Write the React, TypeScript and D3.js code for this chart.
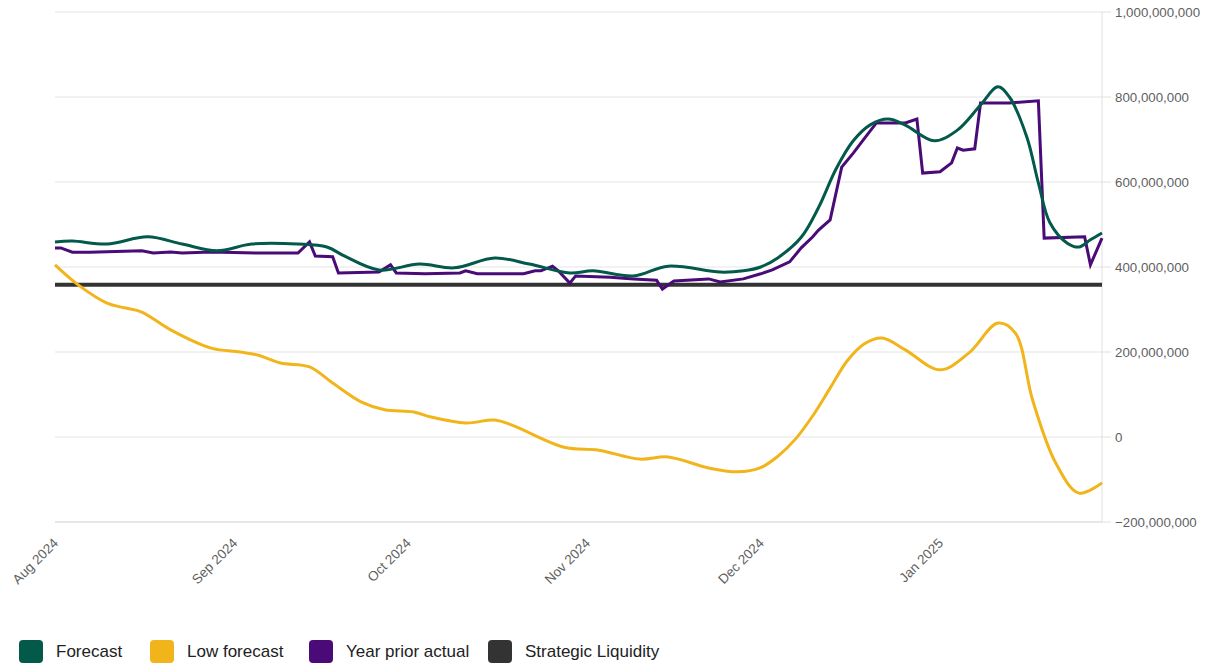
import React from "react";
import * as d3 from "d3";

const forecastDates = ["2024-08-01","2024-08-04","2024-08-10","2024-08-17","2024-08-23","2024-08-29","2024-09-04","2024-09-12","2024-09-17","2024-09-20","2024-09-26","2024-10-03","2024-10-09","2024-10-16","2024-10-22","2024-10-29","2024-11-02","2024-11-09","2024-11-15","2024-11-24","2024-11-28","2024-12-01","2024-12-04","2024-12-08","2024-12-11","2024-12-14","2024-12-17","2024-12-20","2024-12-23","2024-12-26","2024-12-31","2025-01-04","2025-01-08","2025-01-11","2025-01-13","2025-01-16","2025-01-18","2025-01-20","2025-01-23","2025-01-25","2025-01-27","2025-01-29"];
const forecastValues = [459,461,454,471,454,438,454,454,447,426,393,407,398,421,407,386,391,379,402,388,391,400,422,470,540,630,697,735,748,734,697,722,781,824,800,706,598,504,456,447,464,480];

const lowDates = ["2024-08-01","2024-08-05","2024-08-10","2024-08-13","2024-08-16","2024-08-21","2024-08-28","2024-09-02","2024-09-05","2024-09-09","2024-09-14","2024-09-18","2024-09-23","2024-09-27","2024-10-02","2024-10-05","2024-10-11","2024-10-16","2024-10-19","2024-10-28","2024-11-03","2024-11-10","2024-11-15","2024-11-22","2024-11-27","2024-12-01","2024-12-04","2024-12-07","2024-12-10","2024-12-13","2024-12-16","2024-12-19","2024-12-22","2024-12-26","2025-01-01","2025-01-06","2025-01-11","2025-01-14","2025-01-17","2025-01-21","2025-01-25","2025-01-29"];
const lowValues = [405,358,315,304,294,252,209,200,193,174,165,127,82,64,59,47,33,40,28,-24,-31,-52,-47,-73,-82,-72,-45,-5,50,115,180,220,233,205,158,198,268,245,87,-61,-132,-108];

const priorDates = ["2024-08-01","2024-08-02","2024-08-04","2024-08-07","2024-08-16","2024-08-18","2024-08-21","2024-08-23","2024-08-28","2024-09-05","2024-09-12","2024-09-14","2024-09-15","2024-09-18","2024-09-19","2024-09-26","2024-09-28","2024-09-29","2024-10-04","2024-10-10","2024-10-11","2024-10-13","2024-10-21","2024-10-23","2024-10-24","2024-10-26","2024-10-27","2024-10-29","2024-10-30","2024-11-05","2024-11-09","2024-11-13","2024-11-14","2024-11-16","2024-11-22","2024-11-24","2024-11-28","2024-12-01","2024-12-03","2024-12-06","2024-12-08","2024-12-10","2024-12-11","2024-12-13","2024-12-15","2024-12-17","2024-12-19","2024-12-21","2024-12-26","2024-12-28","2024-12-29","2025-01-01","2025-01-03","2025-01-04","2025-01-05","2025-01-07","2025-01-08","2025-01-13","2025-01-18","2025-01-19","2025-01-26","2025-01-27","2025-01-29"];
const priorValues = [445,445,435,435,438,433,435,433,435,433,433,459,426,424,386,388,405,386,384,386,391,384,384,391,391,402,391,362,379,376,372,369,348,367,372,365,372,384,393,412,445,471,487,511,635,668,704,739,739,748,621,624,645,680,675,678,786,786,791,468,471,405,468];

const strategicLiquidity = 358;

const yTicks = [-200, 0, 200, 400, 600, 800, 1000];
const xTickLabels = ["2024-08-01","2024-09-01","2024-10-01","2024-11-01","2024-12-01","2025-01-01"];
const domainStart = "2024-08-01";
const domainEnd = "2025-01-29";

const legendItems = [
  { name: "Forecast", color: "#03594a" },
  { name: "Low forecast", color: "#f2b41b" },
  { name: "Year prior actual", color: "#4a0a78" },
  { name: "Strategic Liquidity", color: "#333333" },
];

const parse = d3.utcParse("%Y-%m-%d");
const fmtTick = d3.utcFormat("%b %Y");
const fmtNum = (v: number) => d3.format(",")(v * 1e6);

export default function App() {
  const W = 1211, H = 664;
  const left = 55, right = 1102, top = 12, bottom = 522;
  const x = d3.scaleUtc().domain([parse(domainStart)!, parse(domainEnd)!]).range([left, right]);
  const y = d3.scaleLinear().domain([-200, 1000]).range([bottom, top]);

  const smooth = d3.line<[Date, number]>().x(d => x(d[0])).y(d => y(d[1])).curve(d3.curveCatmullRom.alpha(0.5));
  const straight = d3.line<[Date, number]>().x(d => x(d[0])).y(d => y(d[1]));

  const fData: [Date, number][] = forecastDates.map((d, i) => [parse(d)!, forecastValues[i]]);
  const lData: [Date, number][] = lowDates.map((d, i) => [parse(d)!, lowValues[i]]);
  const pData: [Date, number][] = priorDates.map((d, i) => [parse(d)!, priorValues[i]]);
  const sData: [Date, number][] = [[parse(domainStart)!, strategicLiquidity], [parse(domainEnd)!, strategicLiquidity]];

  const font = "'Liberation Sans', Arial, Helvetica, sans-serif";
  const legendX = [19, 150, 309, 488];

  return (
    <div style={{ position: "absolute", left: 0, top: 0 }}>
      <svg width={W} height={H} style={{ display: "block", fontFamily: font }}>
        <rect width={W} height={H} fill="#fff" />
        {yTicks.map(t => (
          <g key={t}>
            <line x1={left} x2={right} y1={y(t)} y2={y(t)} stroke={t === -200 ? "#d0d0d0" : "#e6e6e6"} strokeWidth={1.2} />
            <line x1={right} x2={right + 9} y1={y(t)} y2={y(t)} stroke="#e0e0e0" strokeWidth={1} />
            <text x={right + 13} y={y(t) + 5} fontSize={13.3} fill="#5f5f5f">{fmtNum(t)}</text>
          </g>
        ))}
        <line x1={right} x2={right} y1={top} y2={bottom} stroke="#e0e0e0" strokeWidth={1} />
        {xTickLabels.map(t => {
          const px = x(parse(t)!);
          return (
            <text key={t} transform={`translate(${px + 4},${544}) rotate(-45)`} textAnchor="end" fontSize={13.5} fill="#5f5f5f">
              {fmtTick(parse(t)!)}
            </text>
          );
        })}
        <path d={straight(sData)!} fill="none" stroke="#333333" strokeWidth={4} />
        <path d={smooth(lData)!} fill="none" stroke="#f2b41b" strokeWidth={3} />
        <path d={straight(pData)!} fill="none" stroke="#4a0a78" strokeWidth={3} strokeLinejoin="miter" />
        <path d={smooth(fData)!} fill="none" stroke="#03594a" strokeWidth={3} />
        {legendItems.map((it, i) => (
          <g key={it.name} transform={`translate(${legendX[i]},640)`}>
            <rect x={0} y={0} width={24} height={23} rx={4} fill={it.color} />
            <text x={37} y={17} fontSize={17} fill="#222">{it.name}</text>
          </g>
        ))}
      </svg>
    </div>
  );
}
